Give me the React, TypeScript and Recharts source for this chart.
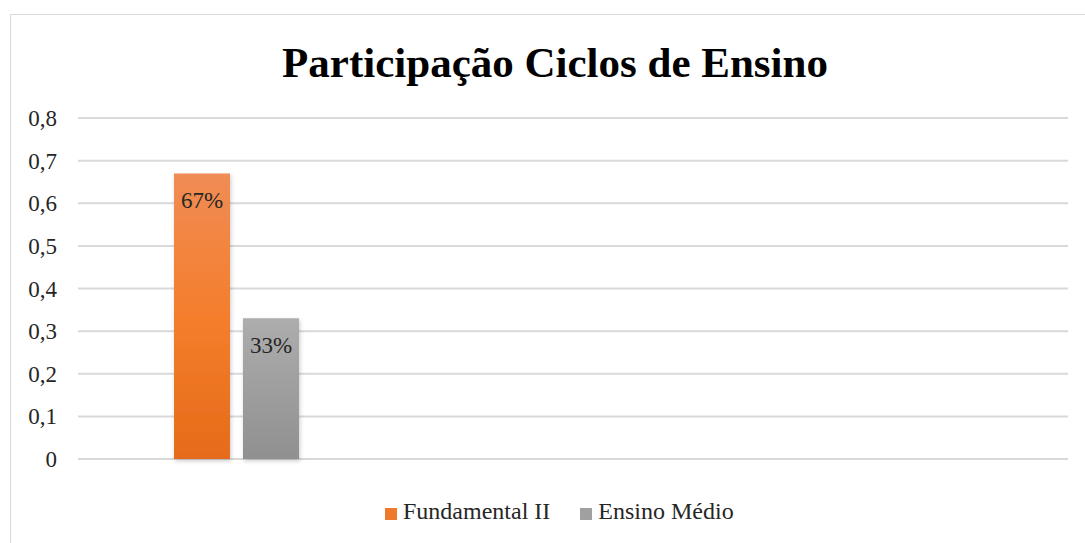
import React from "react";
import { BarChart, Bar, XAxis, YAxis, CartesianGrid, Legend, LabelList } from "recharts";

const categories = ["Ciclos de Ensino"];
const fundamentalII = [0.67];
const ensinoMedio = [0.33];
const yTicks = [0, 0.1, 0.2, 0.3, 0.4, 0.5, 0.6, 0.7, 0.8];

const series = [
  { key: "fundamental", name: "Fundamental II", fill: "url(#gradOrange)", swatch: "#EF7A2C" },
  { key: "medio", name: "Ensino Médio", fill: "url(#gradGrey)", swatch: "#A0A0A0" },
];

const data = categories.map((c, i) => ({
  name: c,
  fundamental: fundamentalII[i],
  medio: ensinoMedio[i],
}));

const FONT = '"Liberation Serif", "Times New Roman", serif';

const fmtTick = (v: number) => (v === 0 ? "0" : v.toFixed(1).replace(".", ","));
const fmtPct = (v: any) => `${Math.round(Number(v) * 100)}%`;

// y tick drawn by hand so the serif font sticks
const YTick = ({ x, y, payload }: any) => (
  <text
    x={x}
    y={y}
    dy={8}
    textAnchor="end"
    style={{ fontFamily: FONT, fontSize: 23, fill: "#262626" }}
  >
    {fmtTick(payload.value)}
  </text>
);

const BarLabel = ({ x, y, width, value }: any) => (
  <text
    x={x + width / 2}
    y={y + 35}
    textAnchor="middle"
    style={{ fontFamily: FONT, fontSize: 23, fill: "#262626" }}
  >
    {fmtPct(value)}
  </text>
);

const LegendContent = () => (
  <div
    style={{
      display: "flex",
      height: 30,
      lineHeight: "30px",
      paddingLeft: 385,
      fontFamily: FONT,
      fontSize: 24,
      color: "#262626",
    }}
  >
    {series.map((s, i) => (
      <div key={s.key} style={{ display: "flex", alignItems: "center", marginRight: i === 0 ? 30 : 0 }}>
        <span
          style={{
            display: "inline-block",
            width: 12,
            height: 12,
            background: s.swatch,
            marginRight: 6,
            marginTop: 5,
          }}
        />
        <span>{s.name}</span>
      </div>
    ))}
  </div>
);

export default function App() {
  return (
    <div
      style={{
        position: "absolute",
        left: 0,
        top: 0,
        width: 1085,
        height: 543,
        overflow: "hidden",
        background: "#fff",
        fontFamily: FONT,
      }}
    >
      <div
        style={{
          position: "absolute",
          left: 10,
          top: 14,
          width: 1100,
          height: 560,
          border: "1.5px solid #D9D9D9",
        }}
      />
      <div
        style={{
          position: "absolute",
          left: 0,
          top: 38,
          width: 1110,
          textAlign: "center",
          fontFamily: FONT,
          fontWeight: "bold",
          fontSize: 43,
          lineHeight: "50px",
          color: "#000",
        }}
      >
        Participação Ciclos de Ensino
      </div>
      <div style={{ position: "absolute", left: 0, top: 0 }}>
        <BarChart
          width={1085}
          height={543}
          data={data}
          margin={{ top: 118, right: 17, bottom: 54, left: 0 }}
          barSize={56}
          barGap={13}
        >
          <defs>
            <linearGradient id="gradOrange" x1="0" y1="0" x2="0" y2="1">
              <stop offset="0%" stopColor="#F08C55" />
              <stop offset="50%" stopColor="#F47E2C" />
              <stop offset="100%" stopColor="#E66B1A" />
            </linearGradient>
            <linearGradient id="gradGrey" x1="0" y1="0" x2="0" y2="1">
              <stop offset="0%" stopColor="#ADADAD" />
              <stop offset="100%" stopColor="#909090" />
            </linearGradient>
            <filter id="barShadow" x="-20%" y="-10%" width="140%" height="120%">
              <feDropShadow dx="1" dy="2" stdDeviation="2" floodColor="#000" floodOpacity="0.2" />
            </filter>
          </defs>
          <CartesianGrid vertical={false} stroke="#D9D9D9" strokeWidth={2} />
          <XAxis
            dataKey="name"
            tick={false}
            axisLine={false}
            tickLine={false}
            height={0}
            padding={{ left: 0, right: 673 }}
          />
          <YAxis
            domain={[0, 0.8]}
            ticks={yTicks}
            axisLine={false}
            tickLine={false}
            tickSize={0}
            tickMargin={21}
            width={78}
            tick={<YTick />}
          />
          <Legend verticalAlign="bottom" content={<LegendContent />} wrapperStyle={{ bottom: 17, left: 0, width: 1085 }} />
          {series.map((s) => (
            <Bar
              key={s.key}
              dataKey={s.key}
              name={s.name}
              fill={s.fill}
              filter="url(#barShadow)"
              isAnimationActive={false}
            >
              <LabelList dataKey={s.key} content={<BarLabel />} />
            </Bar>
          ))}
        </BarChart>
      </div>
    </div>
  );
}
